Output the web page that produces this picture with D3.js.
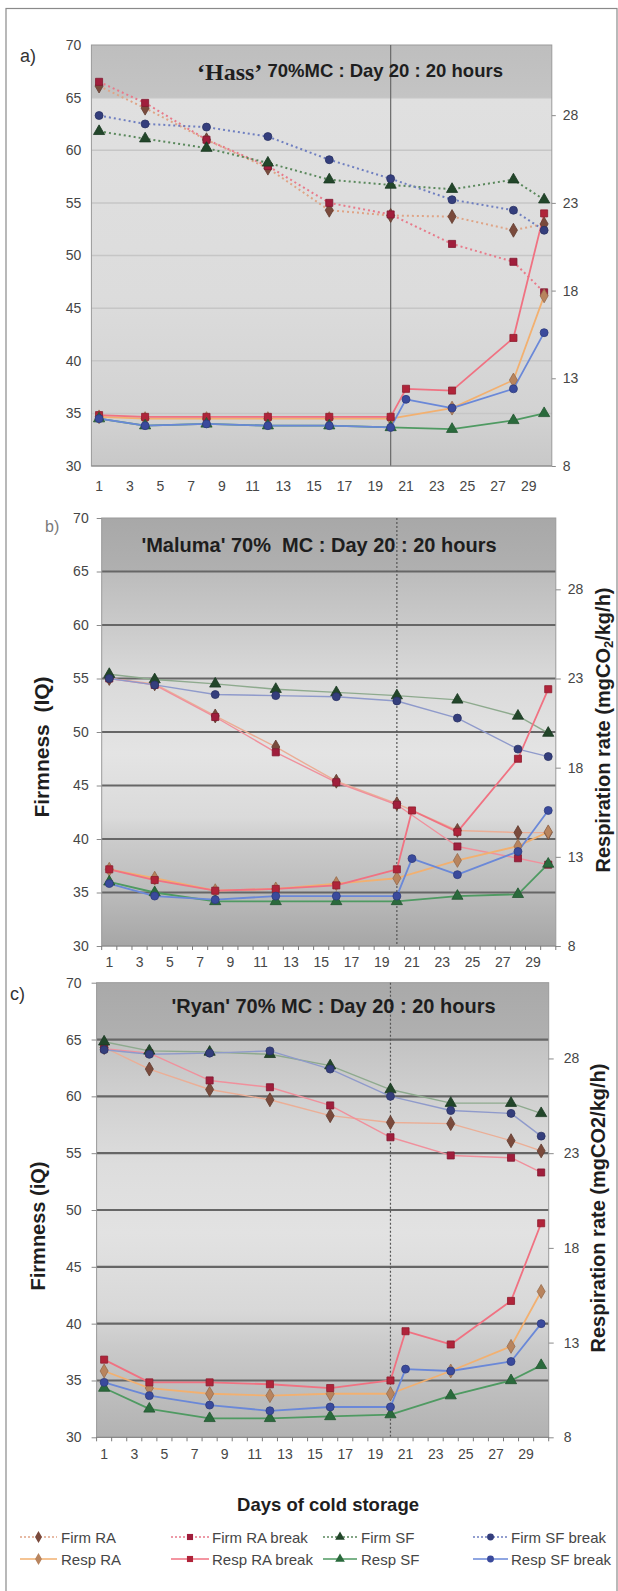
<!DOCTYPE html>
<html><head><meta charset="utf-8">
<script src="https://cdn.jsdelivr.net/npm/d3@7/dist/d3.min.js"></script>
<style>
body{margin:0;background:#fff}
svg{display:block}
text{font-family:"Liberation Sans",Arial,sans-serif}
</style>
</head><body>
<svg id="chart" width="618" height="1591"></svg>
<script>
// ---------------- DATA ----------------
const days = d3.range(1, 31);
const xTickLabels = d3.range(1, 30, 2);
const firmDays = [1, 4, 8, 12, 16, 20, 24, 28, 30];
const respDays = [1, 4, 8, 12, 16, 20, 24, 28, 30];
const respBreakDays = [1, 4, 8, 12, 16, 20, 21, 24, 28, 30];
const firmTicks = [30, 35, 40, 45, 50, 55, 60, 65, 70];
const respTicks = [8, 13, 18, 23, 28];
const legendNames = ["Firm RA", "Firm RA break", "Firm SF", "Firm SF break",
                     "Resp RA", "Resp RA break", "Resp SF", "Resp SF break"];

// a) Hass  - firmness (IQ)
const hassFirmRA      = [66.1, 64.0, 61.0, 58.3, 54.3, 53.8, 53.7, 52.4, 53.0];
const hassFirmRAbreak = [66.5, 64.5, 61.0, 58.5, 55.0, 53.9, 51.1, 49.4, 46.5];
const hassFirmSF      = [61.8, 61.1, 60.2, 58.8, 57.2, 56.7, 56.3, 57.2, 55.3];
const hassFirmSFbreak = [63.3, 62.5, 62.2, 61.3, 59.1, 57.3, 55.3, 54.3, 52.4];
// a) Hass  - respiration (mgCO2/kg/h)
const hassRespRA      = [10.8, 10.7, 10.7, 10.7, 10.7, 10.7, 11.3, 12.9, 17.7];
const hassRespRAbreak = [10.9, 10.8, 10.8, 10.8, 10.8, 10.8, 12.4, 12.3, 15.3, 22.4];
const hassRespSF      = [10.7, 10.3, 10.4, 10.3, 10.3, 10.2, 10.1, 10.6, 11.0];
const hassRespSFbreak = [10.7, 10.3, 10.4, 10.3, 10.3, 10.2, 11.8, 11.3, 12.4, 15.6];

// b) Maluma
const malumaFirmRA      = [55.0, 54.5, 51.5, 48.6, 45.4, 43.3, 40.8, 40.6, 40.6];
const malumaFirmRAbreak = [55.0, 54.4, 51.4, 48.1, 45.3, 43.2, 39.3, 38.2, 37.6];
const malumaFirmSF      = [55.4, 54.9, 54.5, 54.0, 53.7, 53.4, 53.0, 51.5, 49.9];
const malumaFirmSFbreak = [55.0, 54.4, 53.5, 53.4, 53.3, 52.9, 51.3, 48.4, 47.7];
const malumaRespRA      = [12.3, 11.8, 11.1, 11.2, 11.5, 11.8, 12.8, 13.6, 14.4];
const malumaRespRAbreak = [12.3, 11.7, 11.1, 11.2, 11.4, 12.3, 15.6, 14.4, 18.5, 22.4];
const malumaRespSF      = [11.6, 11.0, 10.5, 10.5, 10.5, 10.5, 10.8, 10.9, 12.6];
const malumaRespSFbreak = [11.5, 10.8, 10.6, 10.8, 10.8, 10.8, 12.9, 12.0, 13.3, 15.6];

// c) Ryan
const ryanFirmRA      = [64.3, 62.4, 60.6, 59.7, 58.3, 57.7, 57.6, 56.1, 55.2];
const ryanFirmRAbreak = [64.2, 63.8, 61.4, 60.8, 59.2, 56.4, 54.8, 54.6, 53.3];
const ryanFirmSF      = [64.8, 64.0, 63.9, 63.7, 62.7, 60.6, 59.4, 59.4, 58.5];
const ryanFirmSFbreak = [64.1, 63.7, 63.8, 64.0, 62.4, 60.0, 58.75, 58.5, 56.5];
const ryanRespRA      = [11.5, 10.6, 10.3, 10.2, 10.3, 10.3, 11.5, 12.8, 15.7];
const ryanRespRAbreak = [12.1, 10.9, 10.9, 10.8, 10.6, 11.0, 13.6, 12.9, 15.2, 19.3];
const ryanRespSF      = [10.6, 9.5, 9.0, 9.0, 9.1, 9.2, 10.2, 11.0, 11.8];
const ryanRespSFbreak = [10.9, 10.2, 9.7, 9.4, 9.6, 9.6, 11.6, 11.5, 12.0, 14.0];

// ---------------- STYLES ----------------
const sym = {diamond: d3.symbolDiamond, square: d3.symbolSquare, triangle: d3.symbolTriangle, circle: d3.symbolCircle};
const styles = {
  "Firm RA":       {shape: "diamond",  fill: "#7a4a3c", dotLine: "#dfa486", solidLine: "#ebae96"},
  "Firm RA break": {shape: "square",   fill: "#a01e3c", dotLine: "#e87a8a", solidLine: "#f0909c"},
  "Firm SF":       {shape: "triangle", fill: "#22462a", dotLine: "#5a885c", solidLine: "#8eaa8e"},
  "Firm SF break": {shape: "circle",   fill: "#343e7c", dotLine: "#6f7fc0", solidLine: "#8f9acb"},
  "Resp RA":       {shape: "diamond",  fill: "#b8845e", solidLine: "#f2b070"},
  "Resp RA break": {shape: "square",   fill: "#b0243a", solidLine: "#f07282"},
  "Resp SF":       {shape: "triangle", fill: "#2a6a3c", solidLine: "#4f9a62"},
  "Resp SF break": {shape: "circle",   fill: "#3a4a9c", solidLine: "#6a88d8"}
};
const symSize = {diamond: 56, square: 50, triangle: 54, circle: 50};

const panels = [
  {label: "a)", L: 91.4, R: 551.8, T: 45, B: 466,
   firm: [["Firm RA", hassFirmRA], ["Firm RA break", hassFirmRAbreak], ["Firm SF", hassFirmSF], ["Firm SF break", hassFirmSFbreak]],
   resp: [["Resp RA", respDays, hassRespRA], ["Resp RA break", respBreakDays, hassRespRAbreak], ["Resp SF", respDays, hassRespSF], ["Resp SF break", respBreakDays, hassRespSFbreak]],
   firmDotted: true,
   bg: [[0, "#bebebe"], [0.124, "#c4c4c4"], [0.126, "#e0e0e0"], [0.6, "#dcdcdc"], [0.88, "#d2d2d2"], [1, "#c8c8c8"]],
   grid: {color: "#c6c6c6", width: 1.5}, vdash: null, vcolor: "#6a6a6a",
   lt: {size: 0, pad: 10}, rt: {size: 4, pad: 7}, xt: {pad: 15, minor: false},
   labelPos: [20, 62], labelStyle: {size: 18, color: "#333"},
   title: {x: 197, y: 80, parts: [["\u2018Hass\u2019", "Liberation Serif", 24], [" 70%MC : Day 20 : 20 hours", "Liberation Sans", 18.5]], anchor: "start"},
   yTitle: null, rTitle: null},
  {label: "b)", L: 101.7, R: 555.8, T: 518, B: 946,
   firm: [["Firm RA", malumaFirmRA], ["Firm RA break", malumaFirmRAbreak], ["Firm SF", malumaFirmSF], ["Firm SF break", malumaFirmSFbreak]],
   resp: [["Resp RA", respDays, malumaRespRA], ["Resp RA break", respBreakDays, malumaRespRAbreak], ["Resp SF", respDays, malumaRespSF], ["Resp SF break", respBreakDays, malumaRespSFbreak]],
   firmDotted: false,
   bg: [[0, "#a8a8a8"], [0.125, "#b0b0b0"], [0.127, "#bcbcbc"], [0.25, "#cacaca"], [0.38, "#dadada"], [0.55, "#e4e4e4"], [0.7, "#dadada"], [0.76, "#cacaca"], [0.87, "#bcbcbc"], [1, "#a6a6a6"]],
   grid: {color: "#666", width: 2.2}, vdash: "2,2", vcolor: "#555",
   lt: {size: 5, pad: 8}, rt: {size: 5, pad: 7}, xt: {pad: 11, minor: true},
   labelPos: [45, 532], labelStyle: {size: 16, color: "#7a7a7a"},
   title: {x: 319, y: 552, parts: [["'Maluma' 70%  MC : Day 20 : 20 hours", "Liberation Sans", 20]], anchor: "middle"},
   yTitle: {text: "Firmness  (IQ)", x: 41, y: 747, size: 21},
   rTitle: {x: 603, y: 730, size: 20, sub: true}},
  {label: "c)", L: 96.6, R: 548.7, T: 982.7, B: 1437.3,
   firm: [["Firm RA", ryanFirmRA], ["Firm RA break", ryanFirmRAbreak], ["Firm SF", ryanFirmSF], ["Firm SF break", ryanFirmSFbreak]],
   resp: [["Resp RA", respDays, ryanRespRA], ["Resp RA break", respBreakDays, ryanRespRAbreak], ["Resp SF", respDays, ryanRespSF], ["Resp SF break", respBreakDays, ryanRespSFbreak]],
   firmDotted: false,
   bg: [[0, "#a9a9a9"], [0.124, "#b0b0b0"], [0.126, "#c2c2c2"], [0.25, "#d0d0d0"], [0.4, "#dddddd"], [0.55, "#e2e2e2"], [0.72, "#d8d8d8"], [0.8, "#cacaca"], [0.88, "#c0c0c0"], [1, "#b2b2b2"]],
   grid: {color: "#666", width: 2.2}, vdash: "2,2", vcolor: "#555",
   lt: {size: 5, pad: 10}, rt: {size: 5, pad: 10}, xt: {pad: 12, minor: true},
   labelPos: [10, 1000], labelStyle: {size: 18, color: "#333"},
   title: {x: 333.5, y: 1013, parts: [["'Ryan' 70% MC : Day 20 : 20 hours", "Liberation Sans", 20]], anchor: "middle"},
   yTitle: {text: "Firmness (iQ)", x: 38, y: 1226, size: 20},
   rTitle: {x: 598, y: 1208, size: 20, sub: false}}
];

// ---------------- DRAW ----------------
const svg = d3.select("#chart");
const defs = svg.append("defs");

// outer frame
svg.append("rect").attr("x", 6).attr("y", 8.5).attr("width", 611).attr("height", 1590)
  .attr("fill", "none").attr("stroke", "#8a8a8a").attr("stroke-width", 1.2);

panels.forEach((p, pi) => {
  const x = d3.scaleBand().domain(days).range([p.L, p.R]);
  const cx = d => x(d) + x.bandwidth() / 2;
  const yL = d3.scaleLinear().domain([30, 70]).range([p.B, p.T]);
  const yR = d3.scaleLinear().domain([8, 32]).range([p.B, p.T]);
  const g = svg.append("g");

  // background gradient
  const gid = "bg" + pi;
  const grad = defs.append("linearGradient").attr("id", gid).attr("x1", 0).attr("y1", 0).attr("x2", 0).attr("y2", 1);
  p.bg.forEach(s => grad.append("stop").attr("offset", s[0]).attr("stop-color", s[1]));
  g.append("rect").attr("x", p.L).attr("y", p.T).attr("width", p.R - p.L).attr("height", p.B - p.T)
    .attr("fill", `url(#${gid})`);

  // gridlines
  g.selectAll(".grid").data(firmTicks.filter(t => t > 30 && t < 70)).join("line")
    .attr("x1", p.L).attr("x2", p.R).attr("y1", d => yL(d)).attr("y2", d => yL(d))
    .attr("stroke", p.grid.color).attr("stroke-width", p.grid.width);

  // plot border
  g.append("rect").attr("x", p.L).attr("y", p.T).attr("width", p.R - p.L).attr("height", p.B - p.T)
    .attr("fill", "none").attr("stroke", "#9a9a9a").attr("stroke-width", 1);

  // day-20 vertical line
  g.append("line").attr("x1", cx(20)).attr("x2", cx(20)).attr("y1", p.T).attr("y2", p.B)
    .attr("stroke", p.vcolor).attr("stroke-width", 1.2).attr("stroke-dasharray", p.vdash);

  // left axis
  const la = g.append("g").attr("transform", `translate(${p.L},0)`)
    .call(d3.axisLeft(yL).tickValues(firmTicks).tickSize(p.lt.size).tickPadding(p.lt.pad).tickSizeOuter(0));
  // right axis
  const ra = g.append("g").attr("transform", `translate(${p.R},0)`)
    .call(d3.axisRight(yR).tickValues(respTicks).tickSize(p.rt.size).tickPadding(p.rt.pad).tickSizeOuter(0));
  // bottom axis
  const ba = g.append("g").attr("transform", `translate(0,${p.B})`)
    .call(d3.axisBottom(x).tickValues(xTickLabels).tickSize(0).tickPadding(p.xt.pad).tickSizeOuter(0));
  [la, ra, ba].forEach(a => {
    a.select(".domain").remove();
    a.selectAll("line").attr("stroke", "#8a8a8a");
    a.selectAll("text").attr("font-family", "Liberation Sans, Arial, sans-serif")
      .attr("font-size", 14).attr("fill", "#464646");
  });
  g.append("line").attr("x1", p.L).attr("x2", p.R).attr("y1", p.B).attr("y2", p.B)
    .attr("stroke", "#8a8a8a").attr("stroke-width", 1.2);
  if (p.xt.minor) {
    g.selectAll(".minor").data(days.concat(["end"])).join("line")
      .attr("x1", d => d === "end" ? p.R : x(d)).attr("x2", d => d === "end" ? p.R : x(d))
      .attr("y1", p.B).attr("y2", p.B + 4).attr("stroke", "#7a7a7a");
  }

  // series lines
  const lineL = d3.line().x(d => cx(d[0])).y(d => yL(d[1]));
  const lineR = d3.line().x(d => cx(d[0])).y(d => yR(d[1]));
  const series = [];
  p.firm.forEach(([name, vals]) => series.push({name, pts: firmDays.map((d, i) => [d, vals[i]]), line: lineL, y: yL, firm: true}));
  p.resp.forEach(([name, dd, vals]) => series.push({name, pts: dd.map((d, i) => [d, vals[i]]), line: lineR, y: yR, firm: false}));

  series.forEach(s => {
    const st = styles[s.name];
    const dotted = s.firm && p.firmDotted;
    g.append("path").attr("d", s.line(s.pts)).attr("fill", "none")
      .attr("stroke", dotted ? st.dotLine : st.solidLine)
      .attr("stroke-width", dotted ? 2 : (s.firm ? 1.4 : 1.8))
      .attr("stroke-dasharray", dotted ? "2,3" : null)
      .attr("stroke-linejoin", "round");
  });
  series.forEach(s => {
    const st = styles[s.name];
    g.selectAll(null).data(s.pts).join("path")
      .attr("transform", d => `translate(${cx(d[0])},${s.y(d[1])})`)
      .attr("d", d3.symbol(sym[st.shape], symSize[st.shape]))
      .attr("fill", st.fill).attr("stroke", d3.color(st.fill).darker(0.6)).attr("stroke-width", 0.8);
  });

  // panel label
  svg.append("text").attr("x", p.labelPos[0]).attr("y", p.labelPos[1]).text(p.label)
    .attr("font-size", p.labelStyle.size).attr("fill", p.labelStyle.color);

  // title
  const t = svg.append("text").attr("x", p.title.x).attr("y", p.title.y)
    .attr("text-anchor", p.title.anchor).attr("font-weight", "bold").attr("fill", "#1e1e1e")
    .style("white-space", "pre");
  p.title.parts.forEach((pt, i) => t.append("tspan").text(pt[0]).attr("font-family", pt[1]).attr("font-size", pt[2])
    .attr("dy", i === 1 ? -3 : null));

  // axis titles
  if (p.yTitle) {
    svg.append("text").attr("transform", `translate(${p.yTitle.x},${p.yTitle.y}) rotate(-90)`)
      .attr("text-anchor", "middle").attr("dominant-baseline", "central")
      .attr("font-weight", "bold").attr("font-size", p.yTitle.size).attr("fill", "#1e1e1e")
      .style("white-space", "pre").text(p.yTitle.text);
  }
  if (p.rTitle) {
    const rt = svg.append("text").attr("transform", `translate(${p.rTitle.x},${p.rTitle.y}) rotate(-90)`)
      .attr("text-anchor", "middle").attr("dominant-baseline", "central")
      .attr("font-weight", "bold").attr("font-size", p.rTitle.size).attr("fill", "#1e1e1e");
    if (p.rTitle.sub) {
      rt.append("tspan").text("Respiration rate (mgCO");
      rt.append("tspan").text("2").attr("font-size", p.rTitle.size * 0.65).attr("dy", 5);
      rt.append("tspan").text("/kg/h)").attr("dy", -5);
    } else {
      rt.text("Respiration rate (mgCO2/kg/h)");
    }
  }
});

// x axis title
svg.append("text").attr("x", 328).attr("y", 1511).attr("text-anchor", "middle")
  .attr("font-weight", "bold").attr("font-size", 18.5).attr("fill", "#1e1e1e").text("Days of cold storage");

// legend
const legX = [[20, 57, 61], [171, 209, 212], [323, 357, 361], [473, 508, 511]];
const legY = [1537, 1559];
legendNames.forEach((name, i) => {
  const col = i % 4, row = Math.floor(i / 4);
  const st = styles[name];
  const firm = row === 0;
  const [x0, x1, lx] = legX[col];
  const y = legY[row];
  const lg = svg.append("g");
  lg.append("line").attr("x1", x0).attr("x2", x1).attr("y1", y).attr("y2", y)
    .attr("stroke", firm ? st.dotLine : st.solidLine).attr("stroke-width", 1.6)
    .attr("stroke-dasharray", firm ? "2,2" : null);
  lg.append("path").attr("transform", `translate(${(x0 + x1) / 2},${y})`)
    .attr("d", d3.symbol(sym[st.shape], symSize[st.shape] * 0.75))
    .attr("fill", st.fill);
  lg.append("text").attr("x", lx).attr("y", y).attr("dominant-baseline", "central")
    .attr("font-size", 15).attr("fill", "#464646").text(name);
});
</script>
</body></html>
